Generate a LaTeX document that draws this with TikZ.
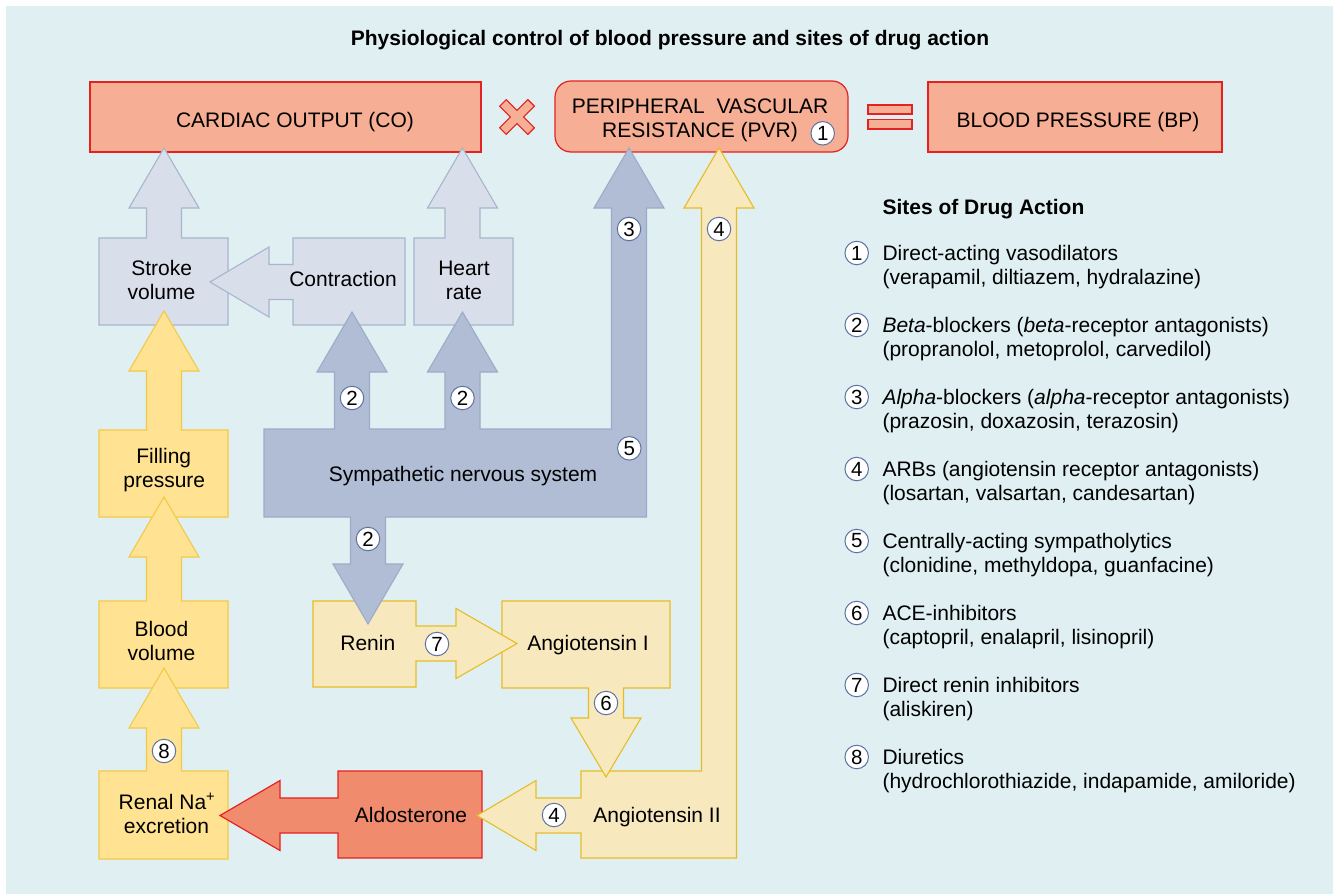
\documentclass[tikz,border=0pt]{standalone}
\usepackage{fontspec}
\setmainfont{Liberation Sans}
\definecolor{bgc}{HTML}{DFEFF2}
\definecolor{salmon}{HTML}{F6AE94}
\definecolor{redc}{HTML}{E42222}
\definecolor{greyf}{HTML}{D8DEEA}
\definecolor{greyd}{HTML}{A9B5CE}
\definecolor{snsf}{HTML}{B0BDD5}
\definecolor{snsd}{HTML}{9DABC9}
\definecolor{yelf}{HTML}{FFE392}
\definecolor{yeld}{HTML}{F3C948}
\definecolor{palef}{HTML}{F8E8BE}
\definecolor{paled}{HTML}{E6BD25}
\definecolor{aldof}{HTML}{F18B6E}
\definecolor{numc}{HTML}{5E72A3}
\begin{document}
\begin{tikzpicture}[x=1pt,y=-1pt,line join=miter,
  txt/.style={anchor=base,inner sep=0pt,font=\fontsize{21}{24}\selectfont},
  ttl/.style={anchor=base,inner sep=0pt,font=\fontsize{21}{24}\selectfont\bfseries},
  num/.style={circle,draw=numc,fill=white,line width=1pt,minimum size=23.5pt,inner sep=0pt,font=\fontsize{20.5}{20.5}\selectfont},
  topbox/.style={fill=salmon,draw=redc,line width=1.2pt},
  greybox/.style={fill=greyf,draw=greyd,line width=1.1pt},
  snsbox/.style={fill=snsf,draw=snsd,line width=1.1pt},
  yelbox/.style={fill=yelf,draw=yeld,line width=1.1pt},
  palebox/.style={fill=palef,draw=paled,line width=1.1pt},
  aldobox/.style={fill=aldof,draw=redc,line width=1.2pt}]
\useasboundingbox (0,0) rectangle (1333,894);
\fill[bgc] (6,6) rectangle (1333,894);

% title
\node[ttl] (title) at (670,45) {Physiological control of blood pressure and sites of drug action};

% top row: CO x PVR = BP
\draw[topbox] (90,82) rectangle (481,152);
\draw[topbox,rounded corners=16] (555,81) rectangle (848,152);
\draw[topbox] (928,82) rectangle (1222,152);
\draw[redc,line width=10.4pt] (502.5,102.5) -- (531.5,131.5) (502.5,131.5) -- (531.5,102.5);
\draw[salmon,line width=8pt] (503.4,103.4) -- (530.6,130.6) (503.4,130.6) -- (530.6,103.4);
\draw[topbox] (868,105) rectangle (912,114);
\draw[topbox] (868,119.5) rectangle (912,129);

% stroke volume with arrow to CO
\draw[greybox] (99,238) -- (146.5,238) -- (146.5,208) -- (129,208) -- (164,148) -- (199,208) -- (181.5,208)
  -- (181.5,238) -- (228,238) -- (228,325) -- (99,325) -- cycle;
% contraction with arrow to stroke volume
\draw[greybox] (293,238) -- (405,238) -- (405,325) -- (293,325) -- (293,299.5) -- (269,299.5) -- (269,317)
  -- (210,282) -- (269,247) -- (269,264.5) -- (293,264.5) -- cycle;
% heart rate with arrow to CO
\draw[greybox] (414,238) -- (445,238) -- (445,208) -- (427.5,208) -- (462.5,148) -- (497.5,208) -- (480,208)
  -- (480,238) -- (513,238) -- (513,325) -- (414,325) -- cycle;

% filling pressure, blood volume, renal Na+ excretion
\draw[yelbox] (99,430) -- (146.5,430) -- (146.5,371) -- (129,371) -- (164,311) -- (199,371) -- (181.5,371)
  -- (181.5,430) -- (228,430) -- (228,517) -- (99,517) -- cycle;
\draw[yelbox] (99,601) -- (146.5,601) -- (146.5,557) -- (129,557) -- (164,497) -- (199,557) -- (181.5,557)
  -- (181.5,601) -- (228,601) -- (228,688) -- (99,688) -- cycle;
\draw[yelbox] (99,771) -- (146.5,771) -- (146.5,728) -- (129,728) -- (164,668) -- (199,728) -- (181.5,728)
  -- (181.5,771) -- (228,771) -- (228,859) -- (99,859) -- cycle;

% aldosterone with arrow to renal excretion
\draw[aldobox] (338,771) -- (482,771) -- (482,858) -- (338,858) -- (338,833) -- (280,833) -- (280,850.5)
  -- (220,815.5) -- (280,780.5) -- (280,798) -- (338,798) -- cycle;

% angiotensin II with arrows to aldosterone and PVR
\draw[palebox] (581,771) -- (701.5,771) -- (701.5,208) -- (684,208) -- (719,148) -- (754,208) -- (736.5,208)
  -- (736.5,858) -- (581,858) -- (581,833) -- (536,833) -- (536,850.5) -- (477,815.5) -- (536,780.5)
  -- (536,798) -- (581,798) -- cycle;

% angiotensin I with arrow to angiotensin II
\draw[palebox] (502,601) -- (670,601) -- (670,688) -- (623.5,688) -- (623.5,718) -- (641,718) -- (606,777)
  -- (571,718) -- (588.5,718) -- (588.5,688) -- (502,688) -- cycle;

% renin with arrow to angiotensin I
\draw[palebox] (313,601) -- (416,601) -- (416,626) -- (456,626) -- (456,608.5) -- (517,643.5) -- (456,678.5)
  -- (456,661) -- (416,661) -- (416,687) -- (313,687) -- cycle;

% sympathetic nervous system with its four arrows
\draw[snsbox] (264,429) -- (334.5,429) -- (334.5,372) -- (317,372) -- (352,312) -- (387,372) -- (369.5,372)
  -- (369.5,429) -- (445,429) -- (445,372) -- (427.5,372) -- (462.5,312) -- (497.5,372) -- (480,372)
  -- (480,429) -- (611.5,429) -- (611.5,208) -- (594,208) -- (629,148) -- (664,208) -- (646.5,208)
  -- (646.5,517) -- (385.5,517) -- (385.5,564) -- (403,564) -- (368,624) -- (333,564) -- (350.5,564)
  -- (350.5,517) -- (264,517) -- cycle;

% labels
\node[txt] (co) at (295,127) {CARDIAC OUTPUT (CO)};
\node[txt] (pvr1) at (700,113.3) {PERIPHERAL\ \ VASCULAR};
\node[txt] (pvr2) at (700,137.7) {RESISTANCE (PVR)};
\node[txt] (bp) at (1078,127) {BLOOD PRESSURE (BP)};
\node[txt] (sv1) at (161.7,275) {Stroke};
\node[txt] (sv2) at (161.5,299) {volume};
\node[txt] (con) at (343,286.5) {Contraction};
\node[txt] (hr1) at (464,275) {Heart};
\node[txt] (hr2) at (464,299) {rate};
\node[txt] (sns) at (463,481) {Sympathetic nervous system};
\node[txt] (fp1) at (163.7,463) {Filling};
\node[txt] (fp2) at (164.3,487) {pressure};
\node[txt] (bv1) at (161.5,636) {Blood};
\node[txt] (bv2) at (161.4,660) {volume};
\node[txt] (rn1) at (167,809) {Renal Na\textsuperscript{+}};
\node[txt] (rn2) at (166.5,833) {excretion};
\node[txt] (ren) at (367.8,650) {Renin};
\node[txt] (at1) at (588,650) {Angiotensin I};
\node[txt] (at2) at (657,822) {Angiotensin II};
\node[txt] (ald) at (411,822) {Aldosterone};

% drug action sites on the diagram
\node[num] (s1) at (822.7,133.3) {1};
\node[num] (s3) at (629,229) {3};
\node[num] (s4a) at (719,229) {4};
\node[num] (s2a) at (352,398) {2};
\node[num] (s2b) at (462.5,398) {2};
\node[num] (s5) at (629.3,448.3) {5};
\node[num] (s2c) at (368,539) {2};
\node[num] (s7) at (437,644) {7};
\node[num] (s6) at (606,703) {6};
\node[num] (s8) at (164,751) {8};
\node[num] (s4b) at (554,815) {4};

% legend
\node[ttl,anchor=base west] (lgt) at (882.3,214) {Sites of Drug Action};
\foreach \k/\a/\b in {
  1/{Direct-acting vasodilators}/{(verapamil, diltiazem, hydralazine)},
  2/{\textit{Beta}-blockers (\textit{beta}-receptor antagonists)}/{(propranolol, metoprolol, carvedilol)},
  3/{\textit{Alpha}-blockers (\textit{alpha}-receptor antagonists)}/{(prazosin, doxazosin, terazosin)},
  4/{ARBs (angiotensin receptor antagonists)}/{(losartan, valsartan, candesartan)},
  5/{Centrally-acting sympatholytics}/{(clonidine, methyldopa, guanfacine)},
  6/{ACE-inhibitors}/{(captopril, enalapril, lisinopril)},
  7/{Direct renin inhibitors}/{(aliskiren)},
  8/{Diuretics}/{(hydrochlorothiazide, indapamide, amiloride)}}{
  \pgfmathsetmacro{\yb}{260+72*(\k-1)}
  \node[num] (ln\k) at (856.7,\yb-7) {\k};
  \node[txt,anchor=base west] (la\k) at (882.3,\yb) {\a};
  \node[txt,anchor=base west] (lb\k) at (882.3,\yb+24.5) {\b};
}
\end{tikzpicture}
\end{document}
